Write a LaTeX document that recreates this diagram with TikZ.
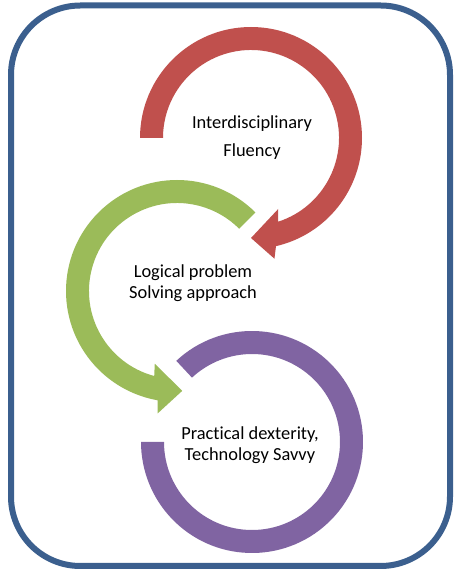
\documentclass[tikz,border=0pt]{standalone}
\usepackage{fontspec}
\setmainfont[Ligatures=NoCommon]{Carlito}
\definecolor{redc}{HTML}{C0504D}
\definecolor{greenc}{HTML}{9BBB59}
\definecolor{purplec}{HTML}{8064A2}
\definecolor{framec}{HTML}{3B5F8E}
\begin{document}
\begin{tikzpicture}[x=0.75pt,y=0.75pt,
  lbl/.style={align=center,font=\fontsize{13.8}{15.5}\selectfont,inner sep=0pt},
  frame/.style={draw=framec,line width=4.5pt,rounded corners=52pt}]
\useasboundingbox (0,0) rectangle (460,572);
\draw[frame] (11,566.5) rectangle (450,6);
% red circular arrow
\begin{scope}[shift={(251,434)}]
\fill[redc] (180:111) arc[start angle=180,end angle=-77,radius=111]
  -- (-79:123) -- (-90:100) -- (-69:76) -- (-72:88)
  arc[start angle=-72,end angle=180,radius=88] -- cycle;
\end{scope}
% green circular arrow
\begin{scope}[shift={(177,281)}]
\fill[greenc] (45:111) arc[start angle=45,end angle=260,radius=111]
  -- (261:124) -- (273:100) -- (253:76) -- (255:88)
  arc[start angle=255,end angle=45,radius=88] -- cycle;
\end{scope}
% purple circular arc
\begin{scope}[shift={(252,130)}]
\fill[purplec] (133:111) arc[start angle=133,end angle=-180,radius=111]
  -- (180:88) arc[start angle=-180,end angle=133,radius=88] -- cycle;
\end{scope}
\node[lbl] (t1) at (252,434) {Interdisciplinary\\[5.5pt]Fluency};
\node[lbl] (t2) at (193,288.5) {Logical problem\\Solving approach};
\node[lbl] (t3) at (250,127) {Practical dexterity,\\Technology Savvy};
\end{tikzpicture}
\end{document}
